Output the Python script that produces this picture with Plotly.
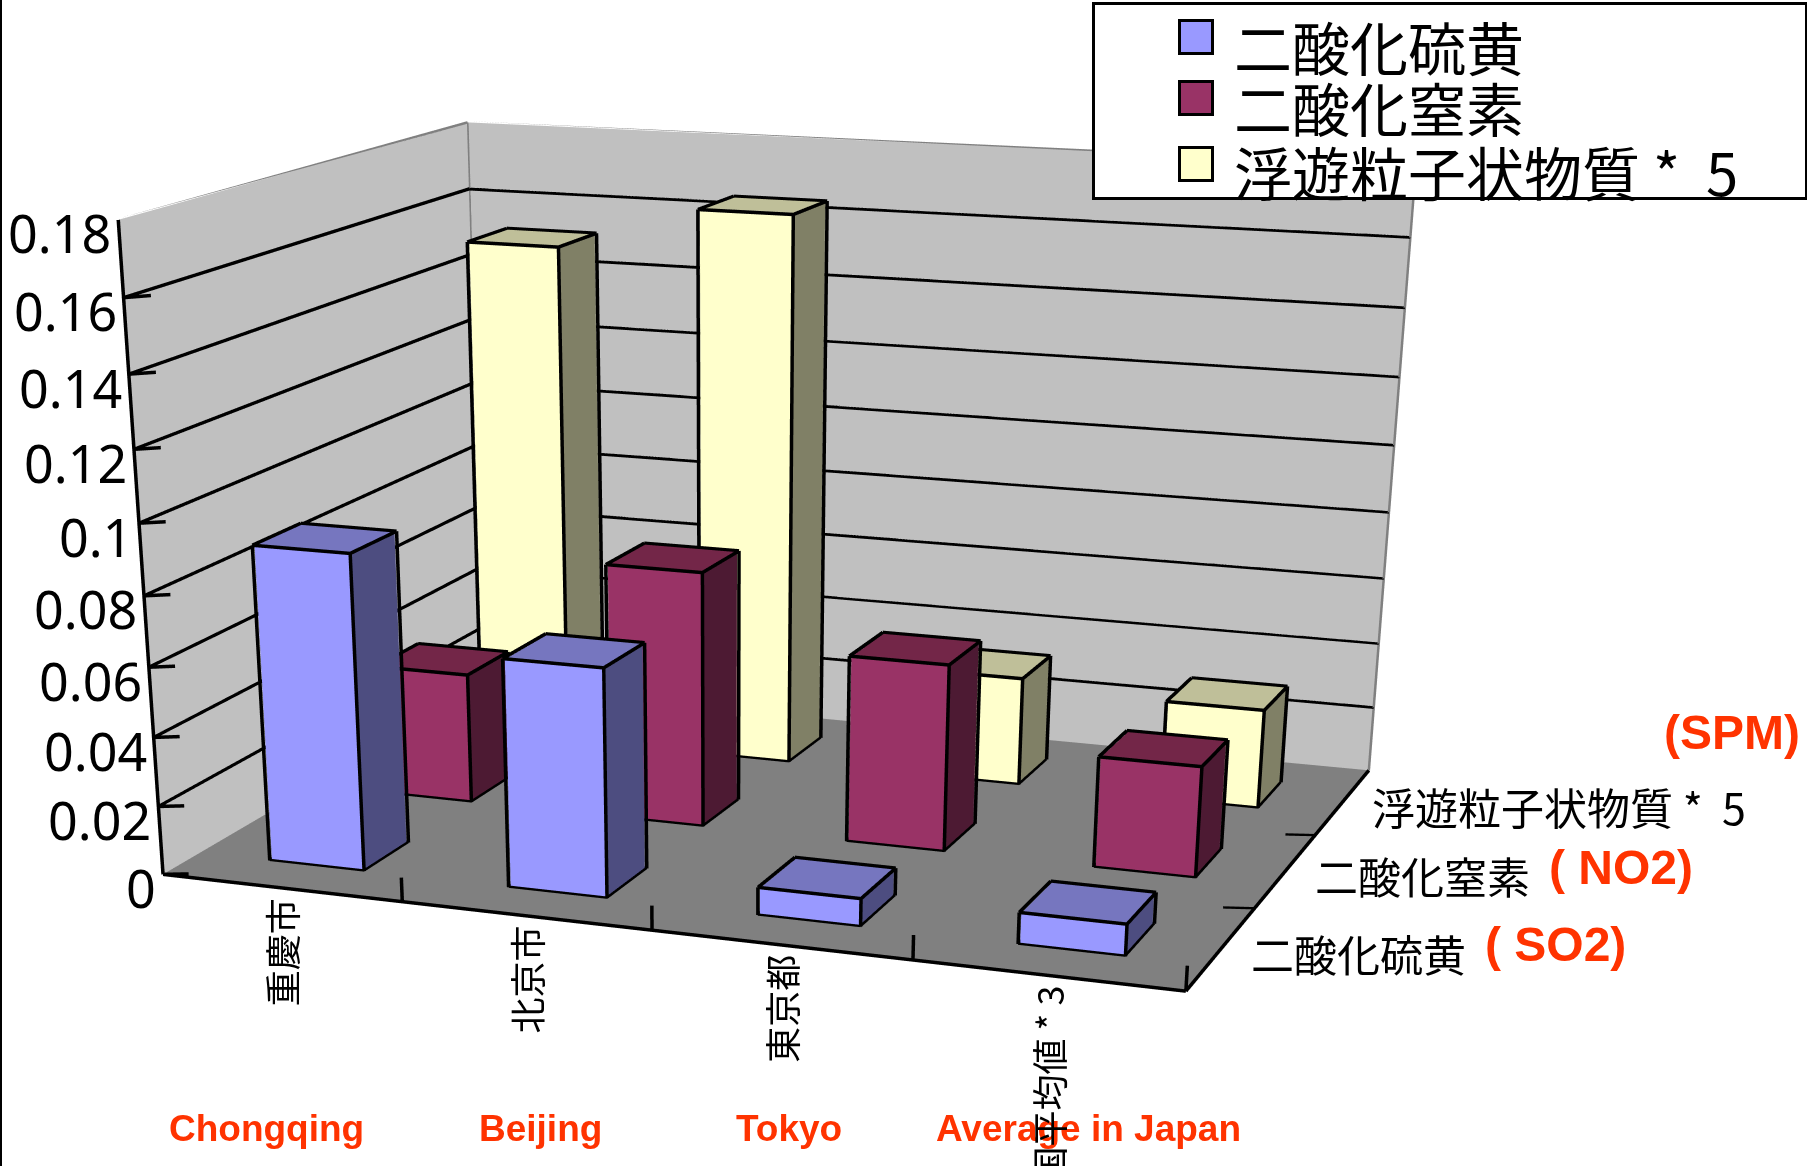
import plotly.graph_objects as go

categories = ["重慶市", "北京市", "東京都", "全国平均値 * 3"]
series = ["二酸化硫黄", "二酸化窒素", "浮遊粒子状物質 * 5"]
series_labels = ["二酸化硫黄", "二酸化窒素", "浮遊粒子状物質 *\u00a0\u00a05"]
so2 = [0.091, 0.0655, 0.008, 0.009]
no2 = [0.039, 0.0755, 0.055, 0.0325]
spm = [0.152, 0.165, 0.033, 0.030]
z_ticks = [0, 0.02, 0.04, 0.06, 0.08, 0.1, 0.12, 0.14, 0.16, 0.18]
english_categories = ["Chongqing", "Beijing", "Tokyo", "Average in Japan"]

# The canvas is taller than the window, which flattens plotly's fixed 45 degree perspective
# to match the reference; the page shows its top 1166 px.
W, H = 1807, 3200
SCALE = 1807 / 1567
DOMAIN_X = 0.8
COLORS = [("#9999FF", "#4D4D80", "#7676BF"), ("#993366", "#4D1A33", "#732648"), ("#FFFFCC", "#808066", "#BFBF99")]
LIGHT = dict(ambient=1, diffuse=0, specular=0, roughness=1, fresnel=0)
EDGES = [(0, 1), (1, 2), (2, 3), (3, 0), (4, 5), (5, 6), (6, 7), (7, 4), (0, 4), (1, 5), (2, 6), (3, 7)]
I = [0, 0, 1, 1, 3, 3, 4, 4]
J = [1, 5, 2, 6, 0, 4, 5, 6]
K = [5, 4, 6, 5, 4, 7, 6, 7]
INSET = 0.006

fig = go.Figure()


def box(x0, x1, y0, y1, top):
    return ([x0, x1, x1, x0, x0, x1, x1, x0], [y0, y0, y1, y1, y0, y0, y1, y1], [0, 0, 0, 0, top, top, top, top])


def add_lines(segments, color, width):
    xs, ys, zs = [], [], []
    for a, b in segments:
        xs += [a[0], b[0], None]
        ys += [a[1], b[1], None]
        zs += [a[2], b[2], None]
    fig.add_trace(go.Scatter3d(x=xs, y=ys, z=zs, mode="lines", line=dict(color=color, width=width),
                               hoverinfo="skip", showlegend=False))


for s, values in enumerate([so2, no2, spm]):
    front, side, top_face = COLORS[s]
    outline = []
    for c, v in enumerate(values):
        x0, x1, y0, y1 = c + 0.3, c + 0.7, s + 0.3, s + 0.7
        xs, ys, zs = box(x0 + INSET, x1 - INSET, y0 + INSET, y1 - INSET, v - 0.0003)
        fig.add_trace(go.Mesh3d(x=xs, y=ys, z=zs, i=I, j=J, k=K, name=series[s],
                                facecolor=[front] * 2 + [side] * 4 + [top_face] * 2,
                                flatshading=True, lighting=LIGHT, hoverinfo="skip", showlegend=False))
        xs, ys, zs = box(x0, x1, y0, y1, v)
        outline += [((xs[a], ys[a], zs[a]), (xs[b], ys[b], zs[b])) for a, b in EDGES]
    add_lines(outline, "black", 7)

z_top = z_ticks[-1]
add_lines([((0, 0, z_top), (0, 3, z_top)), ((0, 3, z_top), (4, 3, z_top)),
           ((0, 3, 0), (0, 3, z_top)), ((4, 3, 0), (4, 3, z_top))], "#808080", 5)
add_lines([((0, 0, 0), (0, 0, z_top)), ((0, 0, 0), (4, 0, 0)), ((4, 0, 0), (4, 3, 0))]
          + [((0, 0, v), (0.11, 0, v + 0.001)) for v in z_ticks]
          + [((c, 0, 0), (c, 0, 0.007)) for c in (1, 2, 3, 4)]
          + [((4, s, 0), (3.89, s - 0.03, 0)) for s in (1, 2)], "black", 7)

scene_notes = []
for c, text in enumerate(categories):
    scene_notes.append(dict(x=c + 0.5, y=0, z=0, text=text, textangle=-90, showarrow=False, xanchor="center",
                            yanchor="top", yshift=-8, font=dict(family="Noto Sans CJK JP", size=36, color="black")))
for s, text in enumerate(series_labels):
    scene_notes.append(dict(x=4, y=s + 0.5, z=0, text=text, showarrow=False, xanchor="left", yanchor="middle",
                            xshift=28, yshift=-4, font=dict(family="Noto Sans CJK JP", size=43, color="black")))
for v in z_ticks:
    scene_notes.append(dict(x=0, y=0, z=v, text=str(v), showarrow=False, xanchor="right", yanchor="middle",
                            xshift=-5, yshift=-13, font=dict(family="Noto Sans", size=52, color="black")))


def note(px, py, text, **kw):
    d = dict(x=px * SCALE / W, y=1 - py * SCALE / H, xref="paper", yref="paper", text=text, showarrow=False,
             xanchor="center", yanchor="middle")
    d.update(kw)
    return d


red = dict(family="Liberation Sans", color="#FF3300")
notes = [note(x, 979, "<b>%s</b>" % t, font=dict(size=37, **red)) for x, t in zip((231, 469, 684, 944), english_categories)]
notes += [note(1502, 635, "<b>(SPM)</b>", font=dict(size=48, **red)),
          note(1406, 752, "<b>( NO2)</b>", font=dict(size=48, **red)),
          note(1349, 819, "<b>( SO2)</b>", font=dict(size=48, **red))]
notes.append(note(947, 2, " ", xanchor="left", yanchor="top", width=710, height=192, bgcolor="white",
                  bordercolor="black", borderwidth=3, borderpad=0, font=dict(size=10)))
for s, (swatch_y, text_y, text) in enumerate(zip((32.5, 85, 142), (40, 93, 148), series_labels)):
    notes.append(note(1037.5, swatch_y, " ", width=30, height=30, bgcolor=COLORS[s][0], bordercolor="black",
                      borderwidth=3, borderpad=0, font=dict(size=10)))
    notes.append(note(1068, text_y, text, xanchor="left", font=dict(family="Noto Sans CJK JP", size=58, color="black")))

plain = dict(showticklabels=False, ticks="", title=dict(text=""), zeroline=False, showspikes=False)
fig.update_layout(
    width=W, height=H, margin=dict(l=0, r=0, t=0, b=0), paper_bgcolor="white", annotations=notes,
    shapes=[dict(type="line", xref="paper", yref="paper", x0=0, x1=0, y0=0, y1=1, line=dict(color="black", width=4))],
    scene=dict(
        domain=dict(x=[0, DOMAIN_X], y=[0, 1]), annotations=scene_notes, aspectmode="manual",
        aspectratio=dict(x=1, y=0.7645, z=0.5926),
        camera=dict(eye=dict(x=1.2484, y=-3.5584, z=0.7814), center=dict(x=0.2088, y=-0.7585, z=-0.7645),
                    up=dict(x=0, y=0, z=1)),
        xaxis=dict(range=[0, 4], showgrid=False, showbackground=True, backgroundcolor="#C0C0C0", **plain),
        yaxis=dict(range=[0, 3], showgrid=False, showbackground=True, backgroundcolor="#C0C0C0", **plain),
        zaxis=dict(range=[0, z_top], tickvals=z_ticks[1:-1], showgrid=True, gridcolor="black", gridwidth=7,
                   showbackground=True, backgroundcolor="#808080", **plain)))
fig.write_html("out.html", post_script="document.body.style.margin='0';", config={"displayModeBar": False})
